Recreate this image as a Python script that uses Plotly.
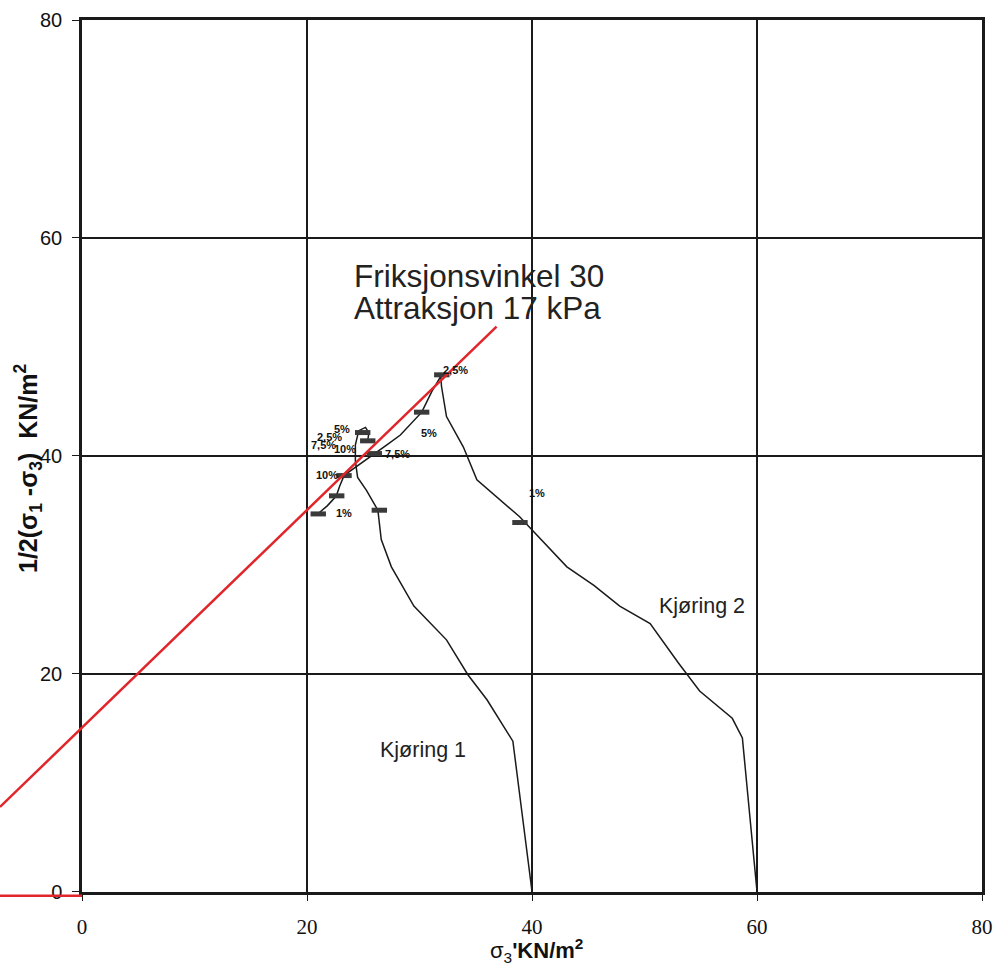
import plotly.graph_objects as go

# ---- data ----
k1_x = [40.0, 38.3, 36.0, 34.3, 32.4, 29.5, 27.5, 26.6, 26.3, 25.3, 24.5, 24.3, 24.3, 24.6, 25.2, 25.5, 25.4]
k1_y = [0.0, 13.8, 17.6, 19.9, 23.1, 26.2, 29.8, 32.3, 35.0, 36.8, 38.0, 39.5, 41.0, 42.3, 42.6, 42.1, 41.4]

k2_x = [60.0, 58.7, 57.8, 54.9, 53.0, 50.5, 47.8, 45.5, 43.1, 39.8, 38.9, 35.1, 33.9, 32.4, 31.95, 31.9,
        31.1, 30.2, 28.3, 27.1, 26.0, 24.6, 23.3, 22.9, 22.6, 21.8, 21.0]
k2_y = [0.0, 14.1, 15.9, 18.4, 21.0, 24.6, 26.2, 28.1, 29.8, 33.4, 34.4, 37.8, 40.8, 43.6, 46.4, 47.3,
        45.9, 44.0, 41.9, 41.0, 40.2, 39.2, 38.2, 37.2, 36.3, 35.4, 34.7]

mark_x = [31.98, 30.19, 24.95, 25.40, 25.98, 23.29, 22.64, 21.00, 26.43, 38.93]
mark_y = [47.43, 44.00, 42.13, 41.37, 40.20, 38.18, 36.32, 34.66, 35.00, 33.87]

lab_text = ["2,5%", "5%", "7,5%", "10%", "1%", "5%", "2,5%", "7,5%", "10%", "1%"]
lab_x = [33.2, 30.8, 28.0, 21.75, 23.3, 23.1, 22.0, 21.45, 23.4, 40.4]
lab_y = [47.9, 42.1, 40.2, 38.2, 34.7, 42.5, 41.7, 41.0, 40.6, 36.6]

env_x = [-7.29, 36.85]
env_y = [7.76, 51.85]
base_x = [-7.29, 0.0]
base_y = [-0.4, -0.4]

xticks = [0, 20, 40, 60, 80]
yticks = [0, 20, 40, 60, 80]

SANS = "Arial, Liberation Sans"
SERIF = "Times New Roman, Liberation Serif"

fig = go.Figure()
line_style = dict(color="#1a1a1a", width=1.5)
fig.add_trace(go.Scatter(x=k1_x, y=k1_y, mode="lines", line=line_style, showlegend=False))
fig.add_trace(go.Scatter(x=k2_x, y=k2_y, mode="lines", line=line_style, showlegend=False))
fig.add_trace(go.Scatter(x=mark_x, y=mark_y, mode="markers", showlegend=False,
                         marker=dict(symbol="line-ew", size=11, line=dict(color="#3a3a3a", width=5))))
# red envelope on an overlay subplot so it can extend left of the axis
fig.add_trace(go.Scatter(x=env_x, y=env_y, mode="lines", xaxis="x2", yaxis="y2",
                         line=dict(color="#e0262a", width=2.5), showlegend=False))
fig.add_trace(go.Scatter(x=base_x, y=base_y, mode="lines", xaxis="x2", yaxis="y2",
                         line=dict(color="#e0262a", width=2.5), showlegend=False))

ann = []
for t, x, y in zip(lab_text, lab_x, lab_y):
    ann.append(dict(x=x, y=y, xref="x", yref="y", text="<b>%s</b>" % t, showarrow=False,
                    font=dict(family=SANS, size=11, color="#111")))
ann.append(dict(x=30.3, y=13.0, xref="x", yref="y", text="Kjøring 1", showarrow=False,
                font=dict(family=SANS, size=21.5, color="#222")))
ann.append(dict(x=55.1, y=26.2, xref="x", yref="y", text="Kjøring 2", showarrow=False,
                font=dict(family=SANS, size=21.5, color="#222")))
ann.append(dict(x=24.0, y=56.5, xref="x", yref="y", text="Friksjonsvinkel 30", showarrow=False,
                xanchor="left", yanchor="middle", font=dict(family=SANS, size=31.5, color="#222")))
ann.append(dict(x=24.0, y=53.6, xref="x", yref="y", text="Attraksjon 17 kPa", showarrow=False,
                xanchor="left", yanchor="middle", font=dict(family=SANS, size=31.5, color="#222")))
ann.append(dict(x=536 / 982, y=(900 - 950) / 880, xref="paper", yref="paper", showarrow=False,
                xanchor="center", yanchor="middle",
                text="σ<sub>3</sub><b>'KN/m<sup>2</sup></b>",
                font=dict(family=SANS, size=22, color="#111")))
ann.append(dict(x=28 / 982, y=(900 - 468) / 880, xref="paper", yref="paper", showarrow=False,
                textangle=-90, xanchor="center", yanchor="middle",
                text="<b>1/2(σ<sub>1</sub> -σ<sub>3</sub>)  KN/m<sup>2</sup></b>",
                font=dict(family=SANS, size=25, color="#111")))

fig.update_layout(
    width=995, height=965,
    margin=dict(l=0, r=13, t=20, b=65),
    paper_bgcolor="white", plot_bgcolor="rgba(0,0,0,0)",
    xaxis=dict(domain=[82 / 982, 1], range=[0, 80], tickvals=xticks, showgrid=True,
               gridcolor="#1a1a1a", gridwidth=1.5, showline=True, linecolor="#1a1a1a", linewidth=2.5,
               mirror=True, ticks="outside", ticklen=7, tickcolor="#1a1a1a", zeroline=False,
               tickfont=dict(family=SERIF, size=21, color="#111"),
               ticklabelstandoff=8, automargin=False),
    yaxis=dict(domain=[8.5 / 880, 1], range=[0, 80], tickvals=yticks, showgrid=True,
               gridcolor="#1a1a1a", gridwidth=1.5, showline=True, linecolor="#1a1a1a", linewidth=2.5,
               mirror=True, ticks="outside", ticklen=7, tickcolor="#1a1a1a", zeroline=False,
               tickfont=dict(family=SANS, size=20, color="#111"),
               ticklabelstandoff=6, automargin=False),
    xaxis2=dict(domain=[0, 1], range=[-82 / 11.25, 80], visible=False, anchor="y2"),
    yaxis2=dict(domain=[0, 1], range=[-8.5 / (871.5 / 80), 80], visible=False, anchor="x2"),
    annotations=ann,
)

fig.write_html("out.html")
